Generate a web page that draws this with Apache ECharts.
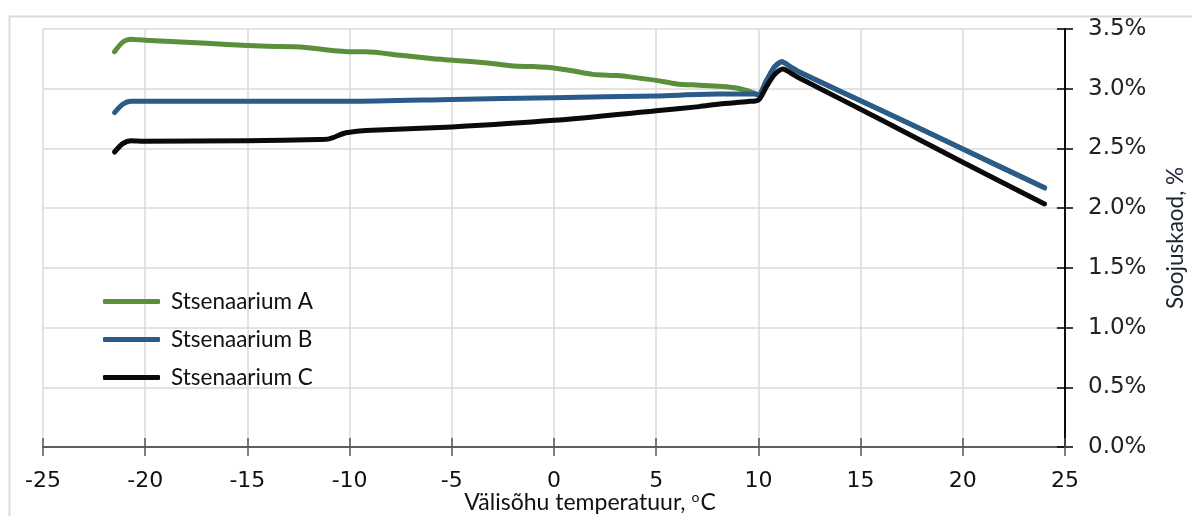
<!DOCTYPE html>
<html>
<head>
<meta charset="utf-8">
<script src="https://cdn.jsdelivr.net/npm/echarts@6/dist/echarts.min.js"></script>
<style>html,body{margin:0;padding:0;background:#fff;}#c{width:1192px;height:516px;}</style>
</head>
<body>
<div id="c"></div>
<script>
// Temperature (°C) and heat loss (%) per scenario
const tempA = [-21.5, -21.1, -20.7, -20, -18, -16, -14, -12.4, -10, -9.2, -7.5, -5.9, -5.1, -3.5, -2, -1, 0.15, 0.9, 1.9, 3.1, 3.9, 5, 6, 7.1, 8.1, 9.1, 9.7, 10, 10.4, 10.8, 11.15, 11.55, 12, 16, 20, 24];
const lossA = [3.31, 3.39, 3.415, 3.405, 3.39, 3.37, 3.355, 3.35, 3.31, 3.31, 3.28, 3.25, 3.24, 3.22, 3.19, 3.185, 3.17, 3.15, 3.12, 3.11, 3.095, 3.07, 3.04, 3.03, 3.02, 3.0, 2.97, 2.95, 3.07, 3.185, 3.225, 3.185, 3.14, 2.82, 2.495, 2.17];

const tempB = [-21.5, -21.1, -20.7, -20, -15, -10, -5, 0, 5, 8, 9.8, 10, 10.4, 10.8, 11.15, 11.55, 12, 16, 20, 24];
const lossB = [2.80, 2.87, 2.895, 2.895, 2.895, 2.895, 2.91, 2.925, 2.94, 2.955, 2.955, 2.95, 3.07, 3.185, 3.225, 3.185, 3.14, 2.82, 2.495, 2.17];

const tempC = [-21.5, -21.1, -20.7, -20, -15, -11.5, -11, -10.3, -10, -9.2, -5, 0, 5, 7.1, 8.1, 9.5, 10, 10.4, 10.8, 11.2, 11.6, 12, 16, 20, 24];
const lossC = [2.47, 2.54, 2.565, 2.56, 2.565, 2.575, 2.58, 2.625, 2.635, 2.65, 2.68, 2.735, 2.815, 2.85, 2.872, 2.893, 2.905, 3.02, 3.12, 3.165, 3.13, 3.09, 2.74, 2.385, 2.035];

const seriesNames = ['Stsenaarium A', 'Stsenaarium B', 'Stsenaarium C'];
const seriesColors = ['#5a8f3c', '#2b5b8a', '#0a0a0a'];
const xTickMin = -25, xTickMax = 25, xTickStep = 5;
const yTickMin = 0, yTickMax = 3.5, yTickStep = 0.5;
const xName = 'Välisõhu temperatuur, ';
const yName = 'Soojuskaod, %';

function zip(xs, ys) { return xs.map((x, i) => [x, ys[i]]); }

const chart = echarts.init(document.getElementById('c'));
const labelFont = 'DejaVu Sans';
const textFont = 'Lato';

function mkX(inside, main) {
  return {
    type: 'value', position: 'bottom', min: xTickMin, max: xTickMax, interval: xTickStep,
    axisLine: { show: true, onZero: false, lineStyle: { color: '#555', width: 1.5 } },
    axisTick: { show: true, inside: inside, length: 9, lineStyle: { color: '#555', width: 1.5 } },
    axisLabel: { show: main, color: '#111', fontFamily: labelFont, fontSize: 22, margin: 23 },
    splitLine: { show: main, lineStyle: { color: '#dadada', width: 1.5 } },
    name: main ? xName + '{sup|o}C' : '',
    nameLocation: 'middle', nameGap: 43, nameMoveOverlap: false,
    nameTextStyle: { color: '#111', fontFamily: textFont, fontSize: 23, padding: [0, 0, 0, 72],
      rich: { sup: { fontSize: 14, verticalAlign: 'top', padding: [0, 1, 11, 0], fontFamily: textFont, color: '#111' } } }
  };
}
function mkY(inside, main) {
  return {
    type: 'value', position: 'right', min: yTickMin, max: yTickMax, interval: yTickStep,
    axisLine: { show: true, onZero: false, lineStyle: { color: '#000', width: 1.5 } },
    axisTick: { show: true, inside: inside, length: 8, lineStyle: { color: '#000', width: 1.5 } },
    axisLabel: { show: main, color: '#222', fontFamily: labelFont, fontSize: 23, margin: 23,
      formatter: v => v.toFixed(1) + '%' },
    splitLine: { show: main, lineStyle: { color: '#dadada', width: 1.5 } },
    name: main ? yName : '', nameLocation: 'middle', nameRotate: 90, nameGap: 99, nameMoveOverlap: false,
    nameTextStyle: { color: '#1b2430', fontFamily: textFont, fontSize: 22.5 }
  };
}

const datasets = [zip(tempA, lossA), zip(tempB, lossB), zip(tempC, lossC)];

chart.setOption({
  animation: false,
  backgroundColor: '#fff',
  grid: { left: 43, right: 127, top: 29, bottom: 69, containLabel: false, outerBoundsMode: 'none' },
  xAxis: [mkX(false, true), mkX(true, false)],
  yAxis: [mkY(false, true), mkY(true, false)],
  legend: {
    orient: 'vertical', left: 98, top: 285, itemWidth: 57, itemHeight: 5, itemGap: 15,
    icon: 'roundRect',
    textStyle: { fontFamily: textFont, fontSize: 22.5, color: '#111', padding: [0, 0, 0, 6] },
    data: seriesNames
  },
  graphic: [{ type: 'rect', left: 7, top: 14, shape: { width: 1200, height: 520 },
    style: { fill: 'none', stroke: '#dcdcdc', lineWidth: 2 }, silent: true, z: -1 }],
  series: datasets.map((d, i) => ({
    name: seriesNames[i], type: 'line', data: d, showSymbol: false, smooth: 0.25,
    xAxisIndex: 0, yAxisIndex: 0,
    lineStyle: { color: seriesColors[i], width: 5, cap: 'round', join: 'round' },
    itemStyle: { color: seriesColors[i] }
  }))
});
</script>
</body>
</html>
